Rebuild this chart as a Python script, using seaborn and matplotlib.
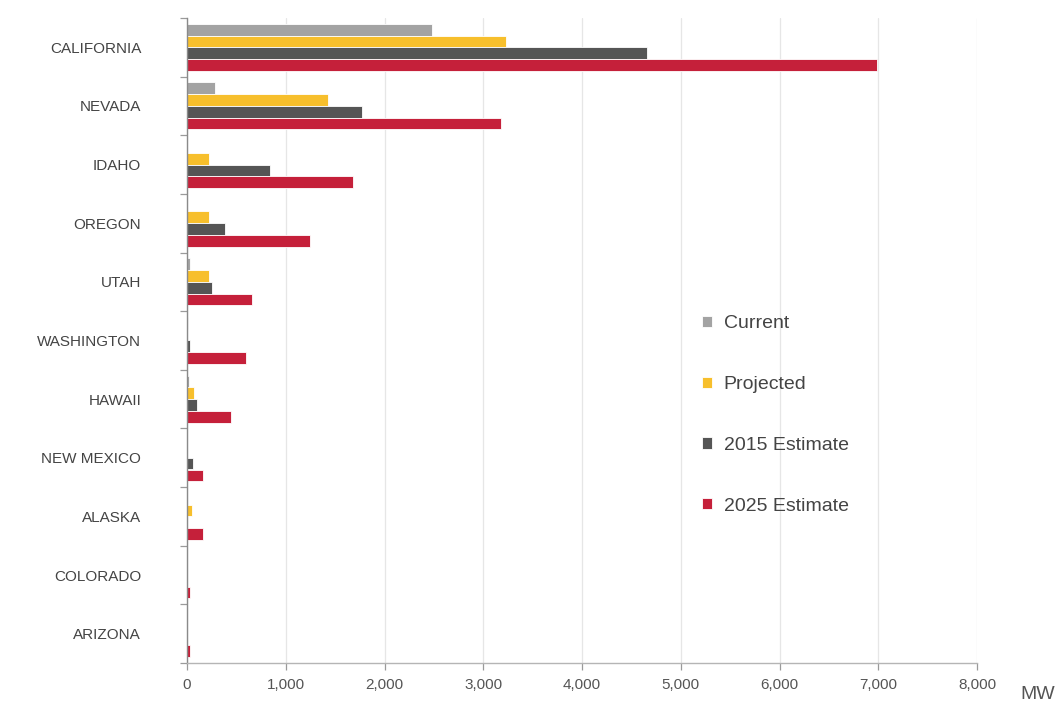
import pandas as pd
import numpy as np
import matplotlib
matplotlib.use("Agg")
import matplotlib.pyplot as plt
import seaborn as sns
from matplotlib.ticker import FixedLocator, FuncFormatter

# states, top to bottom
states = ['CALIFORNIA', 'NEVADA', 'IDAHO', 'OREGON', 'UTAH', 'WASHINGTON',
          'HAWAII', 'NEW MEXICO', 'ALASKA', 'COLORADO', 'ARIZONA']
series = ['Current', 'Projected', '2015 Estimate', '2025 Estimate']

# MW values
current = [2480, 280, 0, 0, 30, 10, 25, 0, 0, 0, 0]
projected = [3230, 1430, 220, 220, 220, 0, 70, 0, 55, 0, 0]
est2015 = [4660, 1770, 840, 380, 250, 30, 100, 65, 0, 0, 0]
est2025 = [6990, 3180, 1680, 1245, 660, 600, 445, 160, 160, 30, 30]

colors = ['#a3a3a3', '#f7bf2c', '#555555', '#c5203a']

rows = []
for name, vals in zip(series, [current, projected, est2015, est2025]):
    for st, v in zip(states, vals):
        rows.append({'state': st, 'series': name, 'MW': v})
df = pd.DataFrame(rows)

sns.set_theme(style="white")
plt.rcParams['font.family'] = ['Liberation Sans Narrow', 'Liberation Sans', 'DejaVu Sans']

fig = plt.figure(figsize=(10.63, 7.04), dpi=100)
ax = fig.add_axes([187 / 1063, 1 - 663 / 704, 790 / 1063, 645 / 704])

sns.barplot(data=df, y='state', x='MW', hue='series', order=states, hue_order=series,
            palette=colors, saturation=1, orient='h', width=0.8, edgecolor='white',
            linewidth=0.6, ax=ax)

ax.set_xlim(0, 8000)
ax.set_ylim(len(states) - 0.5, -0.5)
ax.set_xticks(np.arange(0, 8001, 1000))
ax.xaxis.set_major_formatter(FuncFormatter(lambda v, p: f'{int(v):,}'))
ax.grid(axis='x', color='#e6e6e6', linewidth=0.9)
ax.set_axisbelow(True)

# group boundary ticks on the y axis
ax.yaxis.set_minor_locator(FixedLocator(np.arange(-0.5, len(states), 1.0)))
ax.tick_params(axis='y', which='major', length=0, pad=33, labelsize=11, labelcolor='#444444')
ax.tick_params(axis='y', which='minor', left=True, length=5, width=0.9, color='#9a9a9a')
ax.tick_params(axis='x', which='major', bottom=True, length=5, width=0.9, color='#9a9a9a',
               labelsize=11, labelcolor='#555555', pad=6)

for side in ['top', 'right']:
    ax.spines[side].set_visible(False)
ax.spines['left'].set_color('#8a8a8a')
ax.spines['bottom'].set_color('#b5b5b5')
ax.spines['left'].set_linewidth(1.0)
ax.spines['bottom'].set_linewidth(1.0)

ax.set_xlabel('')
ax.set_ylabel('')
ax.text(1.055, -0.035, 'MW', transform=ax.transAxes, ha='left', va='top',
        fontsize=14, color='#555555')

handles, labels = ax.get_legend_handles_labels()
ax.legend(handles, labels, loc='upper left', bbox_to_anchor=(0.63, 0.566), frameon=False,
          handlelength=0.5, handleheight=0.5, handletextpad=0.6, labelspacing=2.25,
          fontsize=14, labelcolor='#444444')

fig.savefig('out.png', dpi=100)
